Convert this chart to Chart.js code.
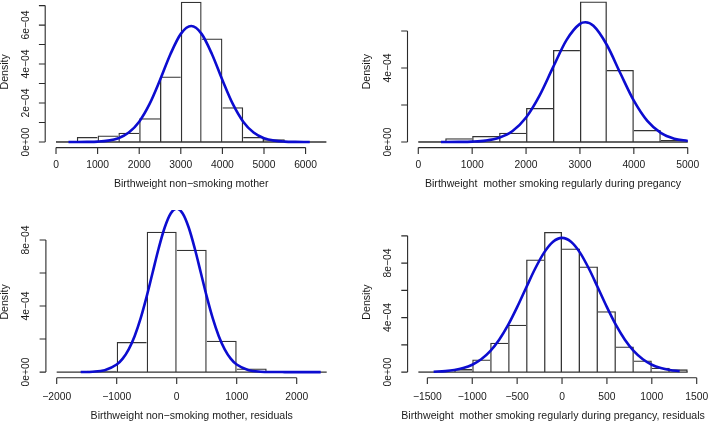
<!DOCTYPE html>
<html>
<head>
<meta charset="utf-8">
<script src="https://cdn.jsdelivr.net/npm/chart.js@4.4.1/dist/chart.umd.min.js"></script>
<style>
html,body{margin:0;padding:0;background:#fff;}
#wrap{position:relative;width:710px;height:422px;overflow:hidden;background:#fff;}
canvas{position:absolute;}
</style>
</head>
<body>
<div id="wrap">
<canvas id="c1" width="355" height="221" style="left:0px;top:-10px"></canvas>
<canvas id="c2" width="355" height="221" style="left:355px;top:-10px"></canvas>
<canvas id="c3" width="355" height="212" style="left:0px;top:210px"></canvas>
<canvas id="c4" width="355" height="212" style="left:355px;top:210px"></canvas>
</div>
<script>
// ---------- Panel 1: non-smoking mother ----------
const breaks1 = [0,500,1000,1500,2000,2500,3000,3500,4000,4500,5000,5500,6000,6500];
const dens1 = [0.03e-4,0.26e-4,0.33e-4,0.48e-4,1.22e-4,3.36e-4,7.2e-4,5.31e-4,1.78e-4,0.26e-4,0.14e-4,0.03e-4,0];
const curveX1 = [300,500,750,1000,1250,1500,1750,2000,2250,2500,2750,3000,3250,3500,3750,4000,4250,4500,4750,5000,5250,5500,5750,6000,6100];
const curveY1 = [0,0.001e-4,0.006e-4,0.021e-4,0.069e-4,0.196e-4,0.486e-4,1.044e-4,1.953e-4,3.18e-4,4.504e-4,5.55e-4,5.95e-4,5.55e-4,4.504e-4,3.18e-4,1.953e-4,1.044e-4,0.486e-4,0.196e-4,0.069e-4,0.021e-4,0.006e-4,0.001e-4,0];
const xTicks1 = [0,1000,2000,3000,4000,5000,6000];
const xTickLabels1 = ['0','1000','2000','3000','4000','5000','6000'];
const yTicks1 = [0,1e-4,2e-4,3e-4,4e-4,5e-4,6e-4,7e-4];
const yTickLabels1 = ['0e+00','','2e\u221204','','4e\u221204','','6e\u221204',''];
const xTitle1 = 'Birthweight non\u2212smoking mother';

// ---------- Panel 2: smoking mother ----------
const breaks2 = [0,500,1000,1500,2000,2500,3000,3500,4000,4500,5000];
const dens2 = [0.02e-4,0.2e-4,0.32e-4,0.5e-4,1.84e-4,4.97e-4,7.6e-4,3.89e-4,0.65e-4,0.11e-4];
const curveX2 = [420,750,1000,1250,1500,1750,2000,2250,2500,2750,3000,3100,3250,3500,3750,4000,4250,4500,4750,5000];
const curveY2 = [0.0005e-4,0.0046e-4,0.02e-4,0.072e-4,0.225e-4,0.591e-4,1.321e-4,2.505e-4,4.032e-4,5.509e-4,6.386e-4,6.47e-4,6.282e-4,5.244e-4,3.714e-4,2.233e-4,1.139e-4,0.493e-4,0.181e-4,0.057e-4];
const xTicks2 = [0,1000,2000,3000,4000,5000];
const xTickLabels2 = ['0','1000','2000','3000','4000','5000'];
const yTicks2 = [0,2e-4,4e-4,6e-4];
const yTickLabels2 = ['0e+00','','4e\u221204',''];
const xTitle2 = 'Birthweight  mother smoking regularly during pregancy';

// ---------- Panel 3: non-smoking mother, residuals ----------
const breaks3 = [-2000,-1500,-1000,-500,0,500,1000,1500,2000,2500];
const dens3 = [0,0.08e-4,1.82e-4,8.5e-4,7.41e-4,1.9e-4,0.22e-4,0,0];
const curveX3 = [-1600,-1400,-1200,-1000,-900,-800,-700,-600,-500,-400,-300,-200,-100,0,100,200,300,400,500,600,700,800,900,1000,1200,1400,1600,1800,2000,2200,2400];
const curveY3 = [0.004e-4,0.024e-4,0.118e-4,0.456e-4,0.818e-4,1.38e-4,2.19e-4,3.268e-4,4.586e-4,6.049e-4,7.5e-4,8.753e-4,9.6e-4,9.9e-4,9.6e-4,8.753e-4,7.5e-4,6.049e-4,4.586e-4,3.268e-4,2.19e-4,1.38e-4,0.818e-4,0.456e-4,0.118e-4,0.024e-4,0.004e-4,0.0005e-4,0,0,0];
const xTicks3 = [-2000,-1000,0,1000,2000];
const xTickLabels3 = ['\u22122000','\u22121000','0','1000','2000'];
const yTicks3 = [0,2e-4,4e-4,6e-4,8e-4];
const yTickLabels3 = ['0e+00','','4e\u221204','','8e\u221204'];
const xTitle3 = 'Birthweight non\u2212smoking mother, residuals';

// ---------- Panel 4: smoking mother, residuals ----------
const breaks4 = [-1600,-1400,-1200,-1000,-800,-600,-400,-200,0,200,400,600,800,1000,1200,1400];
const dens4 = [0.05e-4,0,0.22e-4,0.93e-4,2.15e-4,3.47e-4,8.26e-4,10.29e-4,9.07e-4,7.75e-4,4.47e-4,1.88e-4,0.86e-4,0.32e-4,0.2e-4];
const curveX4 = [-1430,-1300,-1200,-1100,-1000,-900,-800,-700,-600,-500,-400,-300,-200,-100,0,100,200,300,400,500,600,700,800,900,1000,1100,1200,1310];
const curveY4 = [0.026e-4,0.073e-4,0.151e-4,0.294e-4,0.54e-4,0.938e-4,1.537e-4,2.375e-4,3.463e-4,4.766e-4,6.19e-4,7.585e-4,8.77e-4,9.568e-4,9.85e-4,9.568e-4,8.77e-4,7.585e-4,6.19e-4,4.766e-4,3.463e-4,2.375e-4,1.537e-4,0.938e-4,0.54e-4,0.294e-4,0.151e-4,0.068e-4];
const xTicks4 = [-1500,-1000,-500,0,500,1000,1500];
const xTickLabels4 = ['\u22121500','\u22121000','\u2212500','0','500','1000','1500'];
const yTicks4 = [0,2e-4,4e-4,6e-4,8e-4,10e-4];
const yTickLabels4 = ['0e+00','','4e\u221204','','8e\u221204',''];
const xTitle4 = 'Birthweight  mother smoking regularly during pregancy, residuals';

const yTitle = 'Density';

// ---------- styling ----------
const BAR_BORDER = '#333333';
const AXIS_COLOR = '#2a2a2a';
const TEXT_COLOR = '#1a1a1a';
const CURVE_COLOR = '#0c0cd0';
const FONT_FAMILY = '"Liberation Sans", Arial, Helvetica, sans-serif';
const TICK_FONT = '10.3px ' + FONT_FAMILY;
const TITLE_FONT = '10.6px ' + FONT_FAMILY;
const EDGE = 1.3;

function makeAxes(cfg) {
  return {
    id: 'rAxes',
    afterDraw(chart) {
      const {ctx, chartArea: a} = chart;
      const x = chart.scales.x, y = chart.scales.y;
      ctx.save();
      ctx.strokeStyle = AXIS_COLOR;
      ctx.lineWidth = 1.1;
      ctx.fillStyle = TEXT_COLOR;
      // x axis
      const xb = a.bottom;
      ctx.beginPath();
      ctx.moveTo(x.getPixelForValue(cfg.xTicks[0]), xb);
      ctx.lineTo(x.getPixelForValue(cfg.xTicks[cfg.xTicks.length - 1]), xb);
      cfg.xTicks.forEach(v => {
        const p = x.getPixelForValue(v);
        ctx.moveTo(p, xb); ctx.lineTo(p, xb + 6.3);
      });
      // y axis
      const yl = a.left;
      ctx.moveTo(yl, y.getPixelForValue(cfg.yTicks[0]));
      ctx.lineTo(yl, y.getPixelForValue(cfg.yTicks[cfg.yTicks.length - 1]));
      cfg.yTicks.forEach(v => {
        const p = y.getPixelForValue(v);
        ctx.moveTo(yl, p); ctx.lineTo(yl - 6.3, p);
      });
      ctx.stroke();
      // x tick labels
      ctx.font = TICK_FONT;
      ctx.textAlign = 'center';
      ctx.textBaseline = 'middle';
      cfg.xTicks.forEach((v, i) => {
        ctx.fillText(cfg.xTickLabels[i], x.getPixelForValue(v), xb + cfg.xTickOff);
      });
      // y tick labels (rotated)
      cfg.yTicks.forEach((v, i) => {
        const lab = cfg.yTickLabels[i];
        if (!lab) return;
        ctx.save();
        ctx.translate(yl - 19.3, y.getPixelForValue(v));
        ctx.rotate(-Math.PI / 2);
        ctx.fillText(lab, 0, 0);
        ctx.restore();
      });
      // titles
      ctx.font = TITLE_FONT;
      ctx.fillText(cfg.xTitle, (a.left + a.right) / 2, xb + cfg.xTitleOff);
      ctx.save();
      ctx.translate(yl - 40.5, (a.top + a.bottom) / 2);
      ctx.rotate(-Math.PI / 2);
      ctx.fillText(yTitle, 0, 0);
      ctx.restore();
      ctx.restore();
    }
  };
}

function histPanel(id, breaks, dens, cx, cy, xMin, xMax, pad, axesCfg) {
  const n = dens.length;
  const bars = dens.map((d, i) => ({x: (breaks[i] + breaks[i + 1]) / 2, y: d}));
  const yMax = Math.max(...dens) * 1.04;
  const yMin = -Math.max(...dens) * 0.04;
  return new Chart(document.getElementById(id), {
    type: 'bar',
    data: {
      datasets: [
        {
          type: 'bar',
          data: bars,
          backgroundColor: 'rgba(255,255,255,0)',
          borderColor: BAR_BORDER,
          borderSkipped: false,
          inflateAmount: 0,
          barPercentage: 1,
          categoryPercentage: 1,
          borderWidth: (c) => {
            const i = c.dataIndex;
            const left = (i === 0 || dens[i - 1] < dens[i]) ? EDGE : 0;
            const right = (i === n - 1 || dens[i + 1] <= dens[i]) ? EDGE : 0;
            return {top: EDGE, left: left, right: right, bottom: 0};
          },
          order: 2
        },
        {
          type: 'line',
          data: [{x: breaks[0], y: 0}, {x: breaks[breaks.length - 1], y: 0}],
          borderColor: BAR_BORDER,
          borderWidth: 1.3,
          pointRadius: 0,
          order: 1
        },
        {
          type: 'line',
          data: cx.map((v, i) => ({x: v, y: cy[i]})),
          borderColor: CURVE_COLOR,
          borderWidth: 2.6,
          pointRadius: 0,
          cubicInterpolationMode: 'monotone',
          clip: false,
          order: 0
        }
      ]
    },
    options: {
      responsive: false,
      animation: false,
      devicePixelRatio: 1,
      layout: {padding: pad},
      plugins: {legend: {display: false}, tooltip: {enabled: false}},
      scales: {
        x: {
          type: 'linear', min: xMin, max: xMax, offset: false, display: false,
          afterBuildTicks: (s) => { s.ticks = axesCfg.xTicks.map(v => ({value: v})); }
        },
        y: {type: 'linear', min: yMin, max: yMax, display: false}
      }
    },
    plugins: [makeAxes(axesCfg)]
  });
}

histPanel('c1', breaks1, dens1, curveX1, curveY1, -260, 6760,
  {left: 45.2, right: 17.8, top: 6.1, bottom: 63.4},
  {xTicks: xTicks1, xTickLabels: xTickLabels1, yTicks: yTicks1, yTickLabels: yTickLabels1, xTitle: xTitle1, xTickOff: 18, xTitleOff: 36.7});

histPanel('c2', breaks2, dens2, curveX2, curveY2, -200, 5200,
  {left: 52.5, right: 11.5, top: 5.8, bottom: 63.4},
  {xTicks: xTicks2, xTickLabels: xTickLabels2, yTicks: yTicks2, yTickLabels: yTickLabels2, xTitle: xTitle2, xTickOff: 18, xTitleOff: 36.7});

histPanel('c3', breaks3, dens3, curveX3, curveY3, -2180, 2680,
  {left: 45.9, right: 17.5, top: 16.1, bottom: 44.3},
  {xTicks: xTicks3, xTickLabels: xTickLabels3, yTicks: yTicks3, yTickLabels: yTickLabels3, xTitle: xTitle3, xTickOff: 19.3, xTitleOff: 38.3});

histPanel('c4', breaks4, dens4, curveX4, curveY4, -1720, 1520,
  {left: 52.6, right: 11.5, top: 16.3, bottom: 44.3},
  {xTicks: xTicks4, xTickLabels: xTickLabels4, yTicks: yTicks4, yTickLabels: yTickLabels4, xTitle: xTitle4, xTickOff: 19.3, xTitleOff: 38.3});
</script>
</body>
</html>
